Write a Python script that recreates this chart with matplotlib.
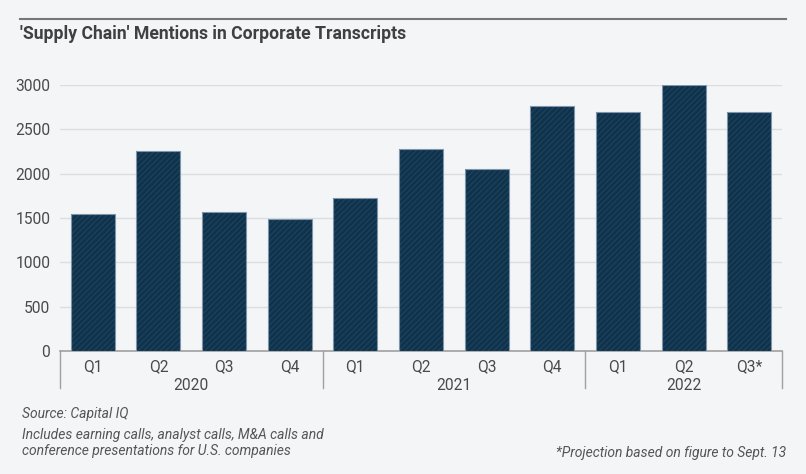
import numpy as np
import matplotlib.pyplot as plt
from matplotlib.lines import Line2D

plt.rcParams['font.family'] = ['Roboto', 'DejaVu Sans']
plt.rcParams['hatch.linewidth'] = 0.6

# data
quarters = ['Q1', 'Q2', 'Q3', 'Q4', 'Q1', 'Q2', 'Q3', 'Q4', 'Q1', 'Q2', 'Q3*']
years = ['2020', '2021', '2022']
year_sizes = [4, 4, 3]
mentions = [1540, 2258, 1570, 1490, 1720, 2280, 2055, 2760, 2700, 3000, 2690]

bg = '#f4f5f7'
navy = '#10334b'
text_col = '#4a4a4a'

fig = plt.figure(figsize=(8.06, 4.74), dpi=100, facecolor=bg)
W, H = 806, 474
ax = fig.add_axes([60 / W, (H - 351) / H, (782 - 60) / W, (351 - 85) / H])
ax.set_facecolor(bg)

x = np.arange(len(mentions))
ax.bar(x, mentions, width=0.67, color=navy, edgecolor='#1f4866',
       hatch='//////', linewidth=0, zorder=3)
ax.bar(x, mentions, width=0.67, fill=False, edgecolor='#7d95ad',
       linewidth=0.8, zorder=4)

ax.set_xlim(-0.5, len(mentions) - 0.5)
ax.set_ylim(0, 3000)
ax.set_yticks(np.arange(0, 3001, 500))
ax.yaxis.grid(True, color='#dcdde0', linewidth=1, zorder=0)
ax.tick_params(axis='y', length=0, pad=7, labelsize=11.2, labelcolor=text_col)
ax.tick_params(axis='x', length=0, pad=6, labelsize=11.2, labelcolor=text_col)
ax.set_xticks(x)
ax.set_xticklabels(quarters)
for s in ['top', 'right', 'left']:
    ax.spines[s].set_visible(False)
ax.spines['bottom'].set_color('#a0a0a0')
ax.spines['bottom'].set_linewidth(1.2)

# year group labels and separators
trans = ax.get_xaxis_transform()
start = 0
bounds = [-0.5]
for yr, n in zip(years, year_sizes):
    mid = start + (n - 1) / 2
    ax.text(mid, -0.128, yr, transform=trans, ha='center', va='center',
            fontsize=11.2, color=text_col, clip_on=False)
    start += n
    bounds.append(start - 0.5)
for b in bounds:
    ax.add_line(Line2D([b, b], [0, -0.138], transform=trans, color='#a0a0a0',
                       linewidth=1, clip_on=False))

# header and footer
fig.add_artist(Line2D([20 / W, 786 / W], [1 - 19 / H, 1 - 19 / H],
                      color='#777777', linewidth=1.5))
fig.text(20 / W, 1 - 34 / H, "'Supply Chain' Mentions in Corporate Transcripts",
         fontsize=12.7, fontweight='bold', color='#404040', va='center')
fig.text(22 / W, 1 - 414 / H, 'Source: Capital IQ', fontsize=10,
         style='italic', color='#555555', va='center')
fig.text(22 / W, 1 - 443 / H,
         'Includes earning calls, analyst calls, M&A calls and\n'
         'conference presentations for U.S. companies',
         fontsize=10, style='italic', color='#555555', va='center',
         linespacing=1.25)
fig.text(786 / W, 1 - 453 / H, '*Projection based on figure to Sept. 13',
         fontsize=10, style='italic', color='#555555', va='center', ha='right')

fig.savefig('out.png', dpi=100, facecolor=bg)
